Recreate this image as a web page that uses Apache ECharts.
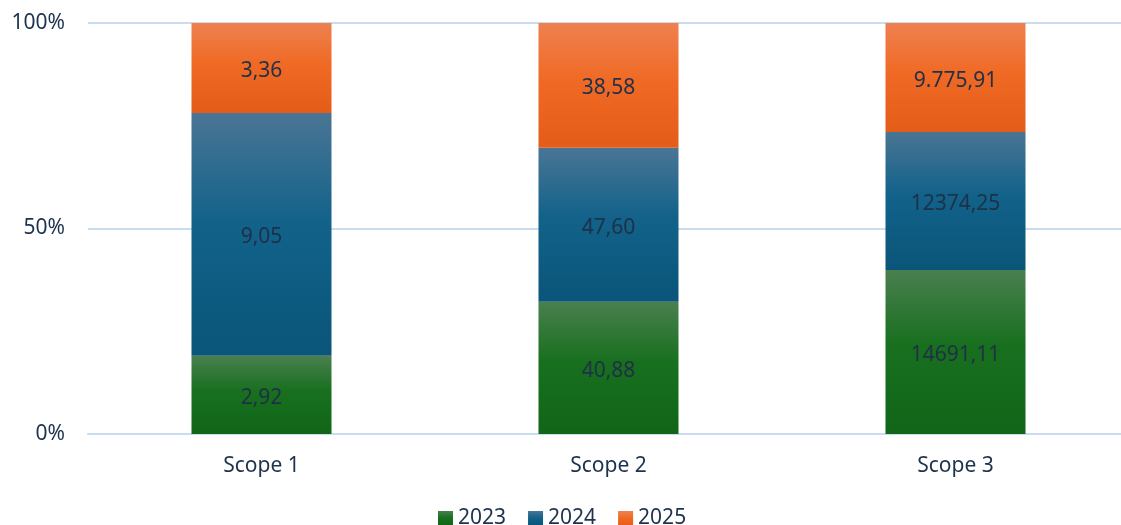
<!DOCTYPE html>
<html>
<head>
<meta charset="utf-8">
<script src="https://cdn.jsdelivr.net/npm/echarts@6/dist/echarts.min.js"></script>
<style>html,body{margin:0;padding:0;background:#fff;overflow:hidden;width:1121px;height:525px}#c{width:1135px;height:525px}</style>
</head>
<body>
<div id="c"></div>
<script>
var categories = ['Scope 1', 'Scope 2', 'Scope 3'];
var years = ['2023', '2024', '2025'];
var values2023 = [2.92, 40.88, 14691.11];
var values2024 = [9.05, 47.60, 12374.25];
var values2025 = [3.36, 38.58, 9775.91];
var labels2023 = ['2,92', '40,88', '14691,11'];
var labels2024 = ['9,05', '47,60', '12374,25'];
var labels2025 = ['3,36', '38,58', '9.775,91'];
var yTicks = [0, 50, 100];

var totals = categories.map(function(_, i){ return values2023[i] + values2024[i] + values2025[i]; });
function pct(arr){ return arr.map(function(v, i){ return v / totals[i] * 100; }); }

function grad(top, mid, bottom){
  return new echarts.graphic.LinearGradient(0, 0, 0, 1, [
    {offset: 0, color: top}, {offset: 0.45, color: mid}, {offset: 1, color: bottom}
  ]);
}
var txt = '#1d324d';
var ff = '"Noto Sans", sans-serif';
var fs = 21;
function mkSeries(name, vals, labels, color){
  return {
    name: name, type: 'bar', stack: 'total', barWidth: 140,
    data: pct(vals),
    itemStyle: {color: color},
    label: {show: true, position: 'inside', offset: [0, 3], fontSize: fs, color: '#1f3048', fontFamily: ff,
      formatter: function(p){ return labels[p.dataIndex]; }},
    emphasis: {disabled: true}
  };
}
var chart = echarts.init(document.getElementById('c'));
chart.setOption({
  animation: false,
  grid: {left: 88, top: 23, right: 6, bottom: 91, containLabel: false},
  legend: {
    top: 503, left: 433, itemWidth: 15, itemHeight: 15, itemGap: 22,
    icon: 'rect',
    textStyle: {fontSize: fs, color: txt, fontFamily: ff, padding: [0,0,0,0]},
    data: [
      {name: '2023', itemStyle: {color: grad('#4a7f4f', '#18701f', '#116518')}},
      {name: '2024', itemStyle: {color: grad('#4a7594', '#12628a', '#0a5579')}},
      {name: '2025', itemStyle: {color: grad('#ee8150', '#f06a25', '#e35d19')}}
    ]
  },
  xAxis: {
    type: 'category', data: categories,
    axisLine: {lineStyle: {color: '#c9dcf0', width: 2}},
    axisTick: {show: false},
    axisLabel: {fontSize: fs, color: txt, margin: 22, fontFamily: ff}
  },
  yAxis: {
    type: 'value', min: 0, max: 100, interval: 50,
    axisLine: {show: false}, axisTick: {show: false},
    splitLine: {lineStyle: {color: '#c9dcf0', width: 2}},
    axisLabel: {fontSize: fs, color: txt, margin: 23, fontFamily: ff, padding: [5, 0, 0, 0],
      formatter: function(v){ return yTicks.indexOf(v) >= 0 ? v + '%' : ''; }}
  },
  series: [
    mkSeries('2023', values2023, labels2023, grad('#4a7f4f', '#18701f', '#116518')),
    mkSeries('2024', values2024, labels2024, grad('#4a7594', '#12628a', '#0a5579')),
    mkSeries('2025', values2025, labels2025, grad('#ee8150', '#f06a25', '#e35d19'))
  ]
});
</script>
</body>
</html>
